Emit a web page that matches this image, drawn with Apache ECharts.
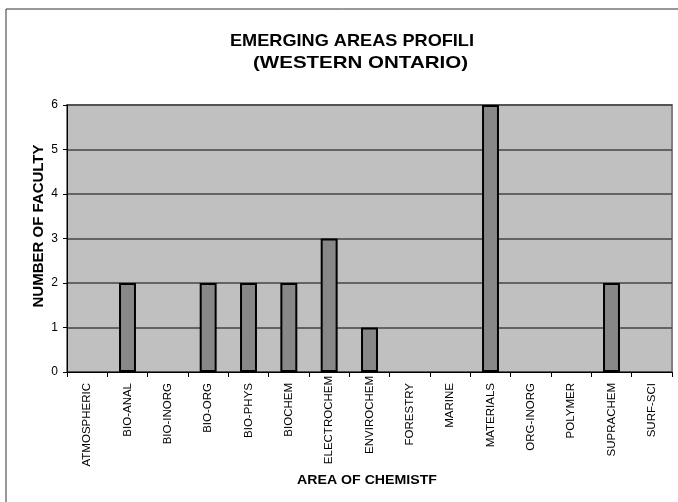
<!DOCTYPE html>
<html>
<head>
<meta charset="utf-8">
<script src="https://cdn.jsdelivr.net/npm/echarts@6/dist/echarts.min.js"></script>
<style>
  html, body { margin: 0; padding: 0; background: #fff; }
  #chart { width: 678px; height: 502px; }
</style>
</head>
<body>
<div id="chart"></div>
<script>
// Faculty counts per area of chemistry
const categories = ['ATMOSPHERIC', 'BIO-ANAL', 'BIO-INORG', 'BIO-ORG', 'BIO-PHYS', 'BIOCHEM',
  'ELECTROCHEM', 'ENVIROCHEM', 'FORESTRY', 'MARINE', 'MATERIALS', 'ORG-INORG',
  'POLYMER', 'SUPRACHEM', 'SURF-SCI'];
const faculty = [0, 2, 0, 2, 2, 2, 3, 1, 0, 0, 6, 0, 0, 2, 0];
const yTicks = [0, 1, 2, 3, 4, 5, 6];
const titleLines = ['EMERGING AREAS PROFILI', '(WESTERN ONTARIO)'];
const xTitle = 'AREA OF CHEMISTF';
const yTitle = 'NUMBER OF FACULTY';

const font = 'Arial, "Liberation Sans", sans-serif';

// stretch a bold line of text horizontally so it spans the given width
function fitScale(text, size, width) {
  const ctx = document.createElement('canvas').getContext('2d');
  ctx.font = 'bold ' + size + 'px ' + font;
  return width / ctx.measureText(text).width;
}

function headline(text, size, left, top, width) {
  return {
    type: 'text', silent: true,
    x: left, y: top,
    scaleX: fitScale(text, size, width),
    style: { text: text, font: 'bold ' + size + 'px ' + font, fill: '#000',
             textAlign: 'left', textVerticalAlign: 'top' }
  };
}

// the two longest labels sit closer to the axis so they clear the axis title
const tightLabels = new Set(['ELECTROCHEM', 'ENVIROCHEM']);
const categoryItems = categories.map(name => ({
  value: name,
  textStyle: { padding: tightLabels.has(name) ? [0, 0, 0, 0] : [0, 7, 0, 0] }
}));

// empty categories get no outline, so nothing is drawn on the axis for them
const barItems = faculty.map(v => ({
  value: v,
  itemStyle: { borderWidth: v > 0 ? 2 : 0 }
}));

const chart = echarts.init(document.getElementById('chart'), null, { renderer: 'canvas' });

chart.setOption({
  backgroundColor: '#fff',
  animation: false,
  grid: {
    left: 67, right: 6, top: 105, bottom: 130,
    show: true, backgroundColor: '#C0C0C0', borderColor: '#808080', borderWidth: 2
  },
  graphic: [
    {
      type: 'rect', silent: true,
      shape: { x: 6, y: 9, width: 700, height: 520 },
      style: { fill: 'none', stroke: '#333', lineWidth: 1 }
    },
    headline(titleLines[0], 17, 230, 33, 244),
    headline(titleLines[1], 17, 253, 55, 215),
    headline(xTitle, 13, 297, 474, 140),
    {
      type: 'text', silent: true,
      x: 39, y: 226, rotation: Math.PI / 2,
      style: { text: yTitle, font: 'bold 15px ' + font, fill: '#000',
               textAlign: 'center', textVerticalAlign: 'middle' }
    }
  ],
  xAxis: {
    type: 'category',
    data: categoryItems,
    boundaryGap: true,
    axisLine: { lineStyle: { color: '#000', width: 1 } },
    axisTick: { show: true, length: 5, lineStyle: { color: '#000' } },
    axisLabel: {
      interval: 0, rotate: 90, margin: 4,
      fontFamily: font, fontSize: 11.5, color: '#000'
    },
    splitLine: { show: false }
  },
  yAxis: {
    type: 'value',
    min: 0, max: 6, interval: 1,
    axisLine: { show: true, lineStyle: { color: '#000', width: 1 } },
    axisTick: { show: true, length: 4, lineStyle: { color: '#000' } },
    axisLabel: {
      margin: 9, fontFamily: font, fontSize: 12, color: '#000',
      formatter: v => (yTicks.includes(v) ? String(v) : '')
    },
    splitLine: { show: true, lineStyle: { color: '#444', width: 1.5 } }
  },
  series: [{
    type: 'bar',
    data: barItems,
    barWidth: '42%',
    itemStyle: { color: '#888888', borderColor: '#000', borderWidth: 2 }
  }]
});
</script>
</body>
</html>
